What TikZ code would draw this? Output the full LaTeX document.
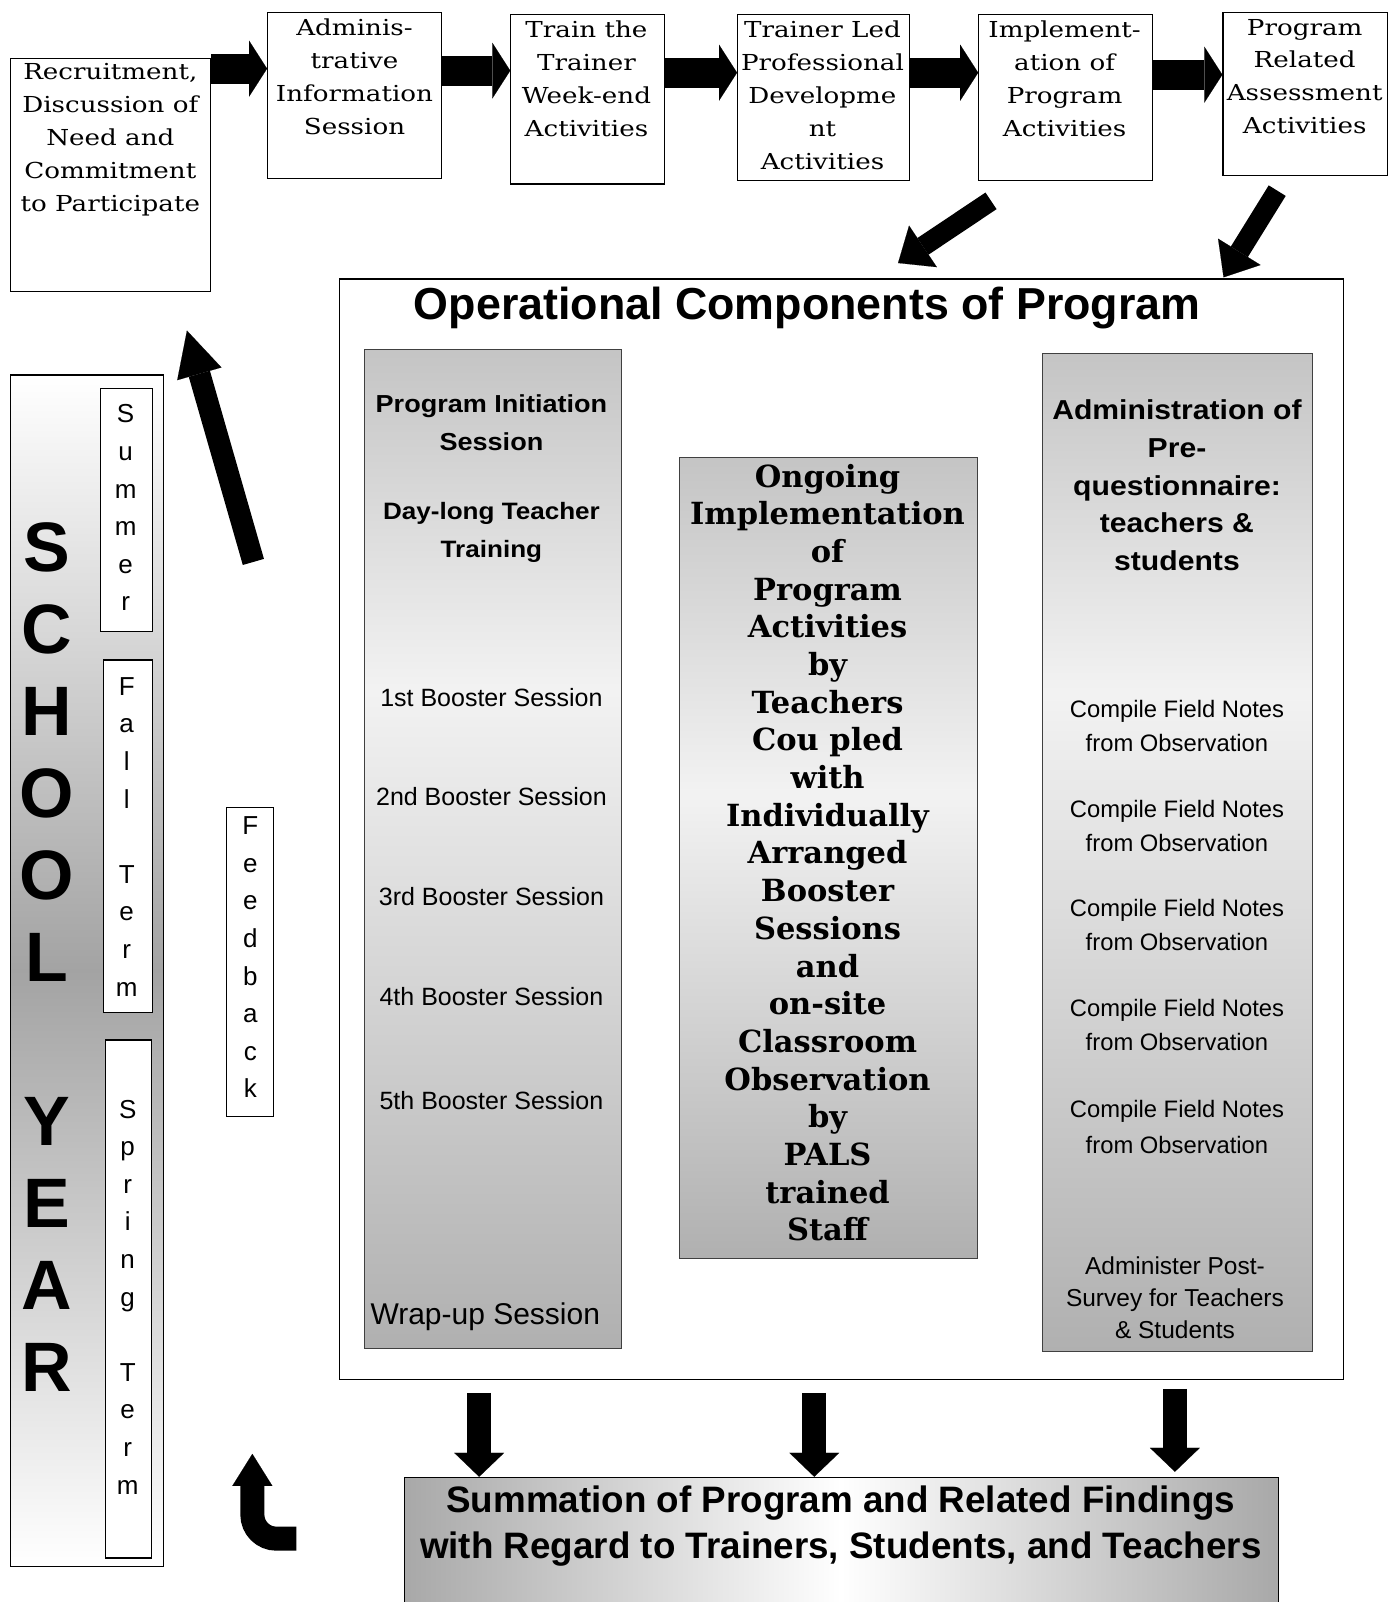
\documentclass[tikz,border=0pt]{standalone}
\usepackage{fontspec}
\setmainfont{Liberation Sans}
\newfontfamily\slabfont[FakeStretch=1.19]{DejaVu Serif}
\newfontfamily\cambfont{DejaVu Serif}
\newfontfamily\widesans[FakeStretch=1.1]{Liberation Sans}
\usetikzlibrary{arrows.meta,positioning,fit,calc}

\definecolor{colTop}{gray}{0.77}
\definecolor{colPeak}{gray}{0.95}
\definecolor{colBot}{gray}{0.69}
\definecolor{schoolMid}{gray}{0.64}
\definecolor{sumSide}{gray}{0.66}

\pgfdeclareverticalshading{colshade}{100bp}{color(0bp)=(colBot); color(25bp)=(colBot);
  color(58bp)=(colPeak); color(75bp)=(colTop); color(100bp)=(colTop)}
\pgfdeclareverticalshading{midshade}{100bp}{color(0bp)=(colBot); color(25bp)=(colBot);
  color(54bp)=(colPeak); color(75bp)=(colTop); color(100bp)=(colTop)}

\tikzset{
  frame/.style={draw=black, line width=1.2pt, inner sep=0pt},
  colbox/.style={frame, draw=black!75, shade, shading=colshade},
  slabtxt/.style={align=center, inner sep=0pt, font=\slabfont\fontsize{22}{33}\selectfont},
  midtxt/.style={align=center, inner sep=0pt, font=\cambfont\bfseries\fontsize{30.5}{37.7}\selectfont},
  headtxt/.style={align=center, inner sep=0pt, font=\widesans\bfseries\fontsize{24.6}{37.8}\selectfont},
  notetxt/.style={align=center, inner sep=0pt, font=\fontsize{23.8}{33.7}\selectfont},
  termtxt/.style={align=center, inner sep=0pt, font=\fontsize{26}{37.6}\selectfont},
  toparrow/.style={line width=30pt, -{Triangle[length=18pt,width=56pt,line width=0.1pt]}},
  diagarrow/.style={line width=20pt, -{Triangle[length=30pt,width=50pt,line width=0.1pt]}},
  downarrow/.style={line width=24pt, -{Triangle[length=24pt,width=50pt,line width=0.1pt]}},
  backarrow/.style={line width=22pt, -{Triangle[length=45pt,width=46pt,line width=0.1pt]}},
  turnarrow/.style={line width=24pt, rounded corners=24pt, -{Triangle[length=32pt,width=40pt,line width=0.1pt]}}
}

\begin{document}
\begin{tikzpicture}[x=1.0219pt,y=-1.0219pt]
  \useasboundingbox (0,0) rectangle (1368,1568);

  % sequence of steps along the top
  \node[frame, fit={(10,57) (206,285)}] (rec) {};
  \node[frame, fit={(262,12) (432,175)}] (adm) {};
  \node[frame, fit={(500,14) (650,180)}] (trn) {};
  \node[frame, fit={(722,14) (890,177)}] (led) {};
  \node[frame, fit={(958,14) (1128,177)}] (imp) {};
  \node[frame, fit={(1197,12) (1358,172)}] (asm) {};

  \node[slabtxt] (rec-t) at (108,137) {Recruitment,\\Discussion of\\Need and\\Commitment\\to Participate};
  \node[slabtxt] (adm-t) at (347,75.5) {Adminis-\\trative\\Information\\Session};
  \node[slabtxt] (trn-t) at (574,77) {Train the\\Trainer\\Week-end\\Activities};
  \node[slabtxt] (led-t) at (805,93) {Trainer Led\\Professional\\Developme\\nt\\Activities};
  \node[slabtxt] (imp-t) at (1042,77) {Implement-\\ation of\\Program\\Activities};
  \node[slabtxt] (asm-t) at (1277,75) {Program\\Related\\Assessment\\Activities};

  \coordinate (a1) at ([yshift=-57pt]adm.north west -| rec.east);
  \coordinate (a2) at ([yshift=-59pt]adm.north east);
  \coordinate (a3) at ([yshift=-59pt]trn.north east);
  \coordinate (a4) at ([yshift=-59pt]led.north east);
  \coordinate (a5) at ([yshift=-61pt]imp.north east);
  \draw[toparrow] (a1) -- (a1 -| adm.west);
  \draw[toparrow] (a2) -- (a2 -| trn.west);
  \draw[toparrow] (a3) -- (a3 -| led.west);
  \draw[toparrow] (a4) -- (a4 -| imp.west);
  \draw[toparrow] (a5) -- (a5 -| asm.west);

  % operational components
  \node[frame, fill=white, fit={(332,273) (1315,1350)}] (ops) {};
  \node[font=\bfseries\fontsize{44.8}{50}\selectfont, inner sep=0pt] (ops-t) at (790,301) {Operational Components of Program};

  \draw[diagarrow] ([xshift=-74.6pt,yshift=-19.4pt]imp.south) -- ([xshift=56.7pt,yshift=15.3pt]ops.north);
  \draw[diagarrow] ([xshift=-28pt,yshift=-14.3pt]asm.south) -- ([xshift=-120.6pt,yshift=1pt]ops.north east);

  \node[colbox, fit={(357,342) (608,1320)}] (pi) {};
  \node[colbox, shading=midshade, fit={(665,448) (957,1232)}] (mid) {};
  \node[colbox, fit={(1020,346) (1285,1323)}] (ra) {};

  \node[headtxt] (pi-a) at (481,413.5) {Program Initiation\\Session};
  \node[headtxt, font=\widesans\bfseries\fontsize{23.7}{37.8}\selectfont] (pi-b) at (481,521.5) {Day-long Teacher\\Training};
  \node[notetxt, font=\fontsize{25}{30}\selectfont] (bs1) at (481,683) {1st Booster Session};
  \node[notetxt, font=\fontsize{25}{30}\selectfont] (bs2) at (481,780) {2nd Booster Session};
  \node[notetxt, font=\fontsize{25}{30}\selectfont] (bs3) at (481,878) {3rd Booster Session};
  \node[notetxt, font=\fontsize{25}{30}\selectfont] (bs4) at (481,975) {4th Booster Session};
  \node[notetxt, font=\fontsize{25}{30}\selectfont] (bs5) at (481,1077) {5th Booster Session};
  \node[notetxt, font=\fontsize{30}{34}\selectfont] (wrap) at (475,1289) {Wrap-up Session};

  \node[midtxt] (mid-t) at (810,834.5) {Ongoing\\Implementation\\of\\Program\\Activities\\by\\Teachers\\Cou pled\\with\\Individually\\Arranged\\Booster\\Sessions\\and\\on-site\\Classroom\\Observation\\by\\PALS\\trained\\Staff};

  \node[headtxt, font=\widesans\bfseries\fontsize{27.4}{37.8}\selectfont] (ra-a) at (1152,475) {Administration of\\Pre-\\questionnaire:\\teachers \&\\students};
  \node[notetxt] (fn1) at (1152,710.5) {Compile Field Notes\\from Observation};
  \node[notetxt] (fn2) at (1152,808.5) {Compile Field Notes\\from Observation};
  \node[notetxt] (fn3) at (1152,905.5) {Compile Field Notes\\from Observation};
  \node[notetxt] (fn4) at (1152,1003.5) {Compile Field Notes\\from Observation};
  \node[notetxt, font=\fontsize{23.8}{36.8}\selectfont] (fn5) at (1152,1103) {Compile Field Notes\\from Observation};
  \node[notetxt, font=\fontsize{24.5}{31.7}\selectfont] (post) at (1150,1270) {Administer Post-\\Survey for Teachers\\\& Students};

  % summation
  \node[frame, left color=sumSide, right color=sumSide, middle color=white, fit={(396,1446) (1251,1600)}] (sum) {};
  \node[font=\bfseries\fontsize{36.8}{46}\selectfont, align=center, inner sep=0pt] (sum-t) at (823,1493.5) {Summation of Program and Related Findings\\with Regard to Trainers, Students, and Teachers};

  \coordinate (d1) at ([xshift=-13.8pt]pi.south |- ops.south);
  \coordinate (d2) at ([xshift=-14.3pt]mid.south |- ops.south);
  \coordinate (d3) at ([xshift=-2.6pt]ra.south |- ops.south);
  \draw[downarrow] ([yshift=-13pt]d1) -- (d1 |- sum.north);
  \draw[downarrow] ([yshift=-13pt]d2) -- (d2 |- sum.north);
  \draw[downarrow] ([yshift=-9pt]d3) -- ([yshift=5pt]d3 |- sum.north);

  % school year
  \node[frame, top color=white, bottom color=white, middle color=schoolMid, fit={(10,367) (160,1533)}] (yr) {};
  \node[align=center, inner sep=0pt, font=\bfseries\fontsize{70}{82}\selectfont] (yr-t) at (46,936.5) {S\\C\\H\\O\\O\\L\\\mbox{}\\Y\\E\\A\\R};
  \node[frame, fill=white, fit={(98,380) (149,618)}] (sm) {};
  \node[frame, fill=white, fit={(101,646) (149,991)}] (fa) {};
  \node[frame, fill=white, fit={(103,1018) (148,1525)}] (sp) {};
  \node[termtxt] (sm-t) at (123,497) {S\\u\\m\\m\\e\\r};
  \node[termtxt] (fa-t) at (124,819) {F\\a\\l\\l\\\mbox{}\\T\\e\\r\\m};
  \node[termtxt] (sp-t) at (125,1269.5) {S\\p\\r\\i\\n\\g\\\mbox{}\\T\\e\\r\\m};

  \node[frame, fill=white, fit={(222,790) (268,1093)}] (fb) {};
  \node[termtxt] (fb-t) at (245,937) {F\\e\\e\\d\\b\\a\\c\\k};

  \coordinate (fb-tail) at (248,550);
  \draw[backarrow] (fb-tail) -- ([xshift=76.6pt,yshift=-38.8pt]rec.south);

  \coordinate (turn-a) at (290,1506);
  \coordinate (turn-b) at (247,1423);
  \draw[turnarrow] (turn-a) -| (turn-b);

\end{tikzpicture}
\end{document}
